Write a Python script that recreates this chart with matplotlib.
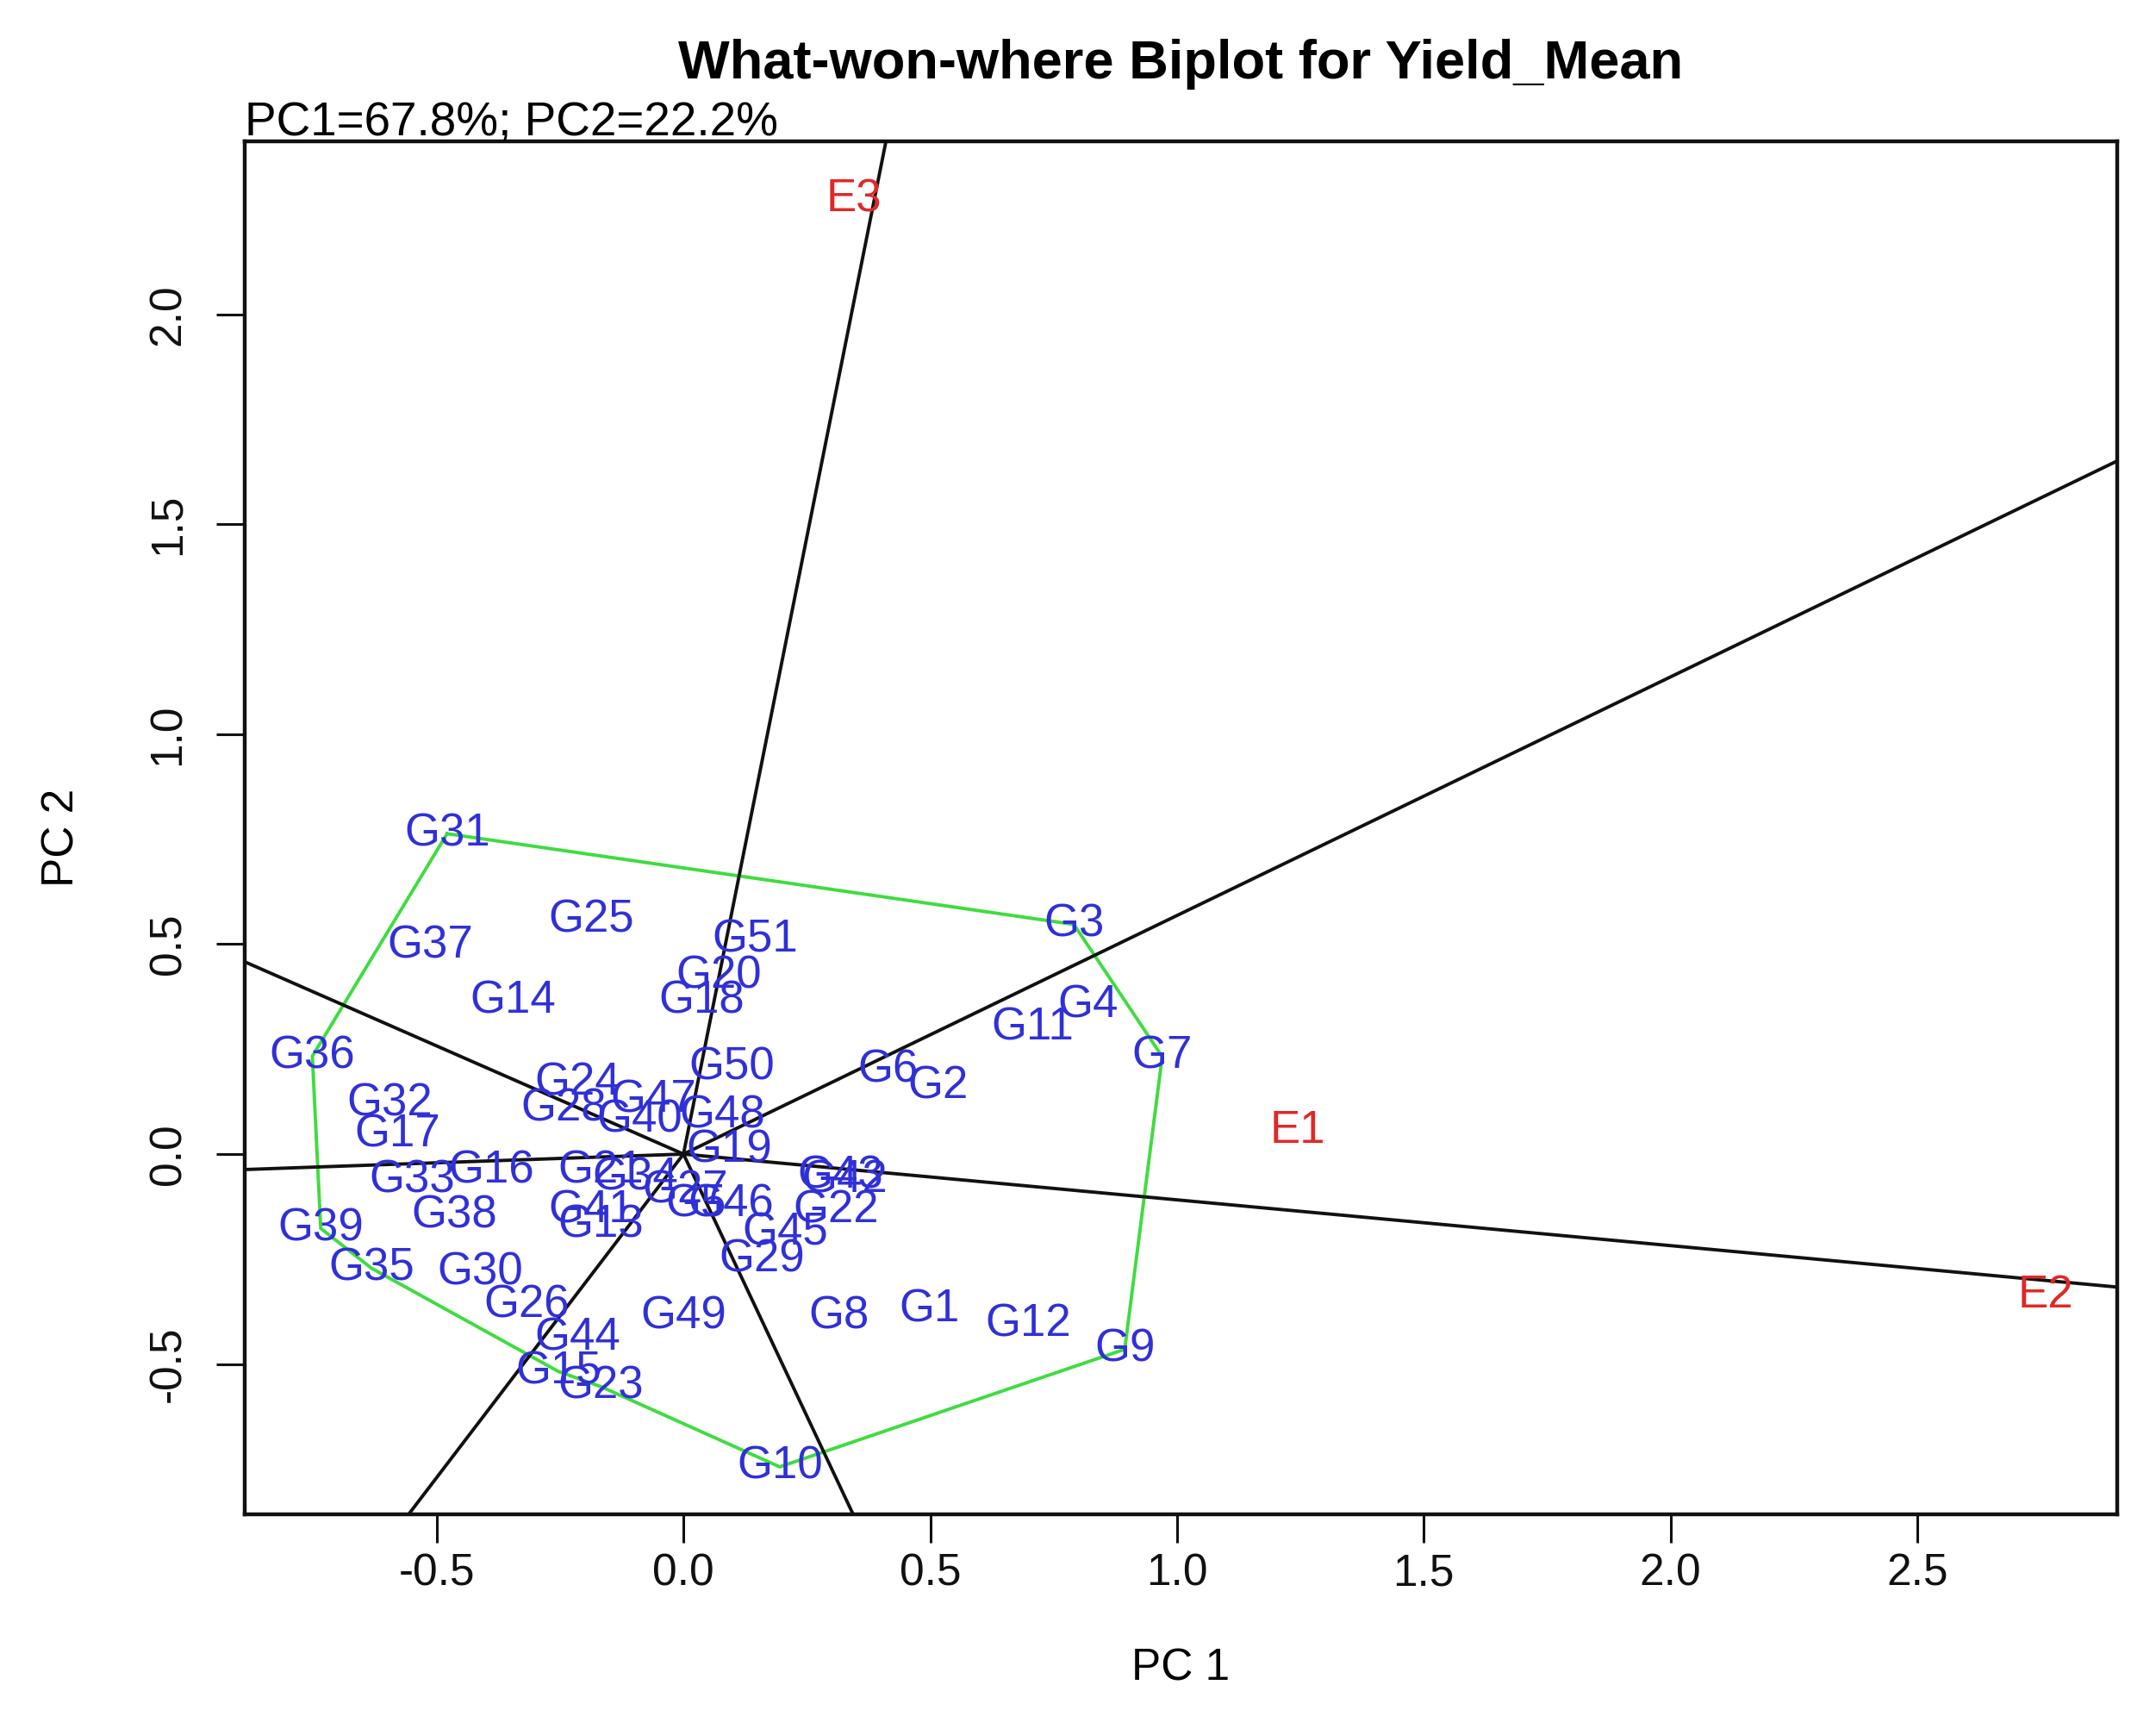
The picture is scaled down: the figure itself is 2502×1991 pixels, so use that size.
import numpy as np
import matplotlib
matplotlib.use("Agg")
import matplotlib.pyplot as plt

plt.rcParams['font.family'] = ['Liberation Sans', 'DejaVu Sans']

# ---- data ----
genotypes = ["G1", "G2", "G3", "G4", "G5", "G6", "G7", "G8", "G9", "G10",
             "G11", "G12", "G13", "G14", "G15", "G16", "G17", "G18", "G19", "G20",
             "G21", "G22", "G23", "G24", "G25", "G26", "G27", "G28", "G29", "G30",
             "G31", "G32", "G33", "G34", "G35", "G36", "G37", "G38", "G39", "G40",
             "G41", "G42", "G43", "G44", "G45", "G46", "G47", "G48", "G49", "G50",
             "G51"]
g_pc1 = [0.499, 0.515, 0.791, 0.819, 0.025, 0.415, 0.970, 0.315, 0.894, 0.195,
         0.708, 0.699, -0.167, -0.345, -0.253, -0.390, -0.579, 0.036, 0.092, 0.072,
         -0.167, 0.309, -0.167, -0.214, -0.187, -0.318, 0.003, -0.242, 0.159, -0.412,
         -0.479, -0.596, -0.549, -0.097, -0.632, -0.752, -0.513, -0.465, -0.735, -0.089,
         -0.187, 0.326, 0.318, -0.214, 0.206, 0.097, -0.061, 0.078, 0.000, 0.097,
         0.145]
g_pc2 = [-0.370, 0.161, 0.547, 0.354, -0.121, 0.200, 0.232, -0.387, -0.465, -0.745,
         0.301, -0.406, -0.170, 0.364, -0.518, -0.039, 0.046, 0.364, 0.010, 0.423,
         -0.039, -0.134, -0.554, 0.170, 0.557, -0.360, -0.088, 0.108, -0.252, -0.282,
         0.763, 0.121, -0.062, -0.056, -0.272, 0.233, 0.495, -0.147, -0.177, 0.082,
         -0.134, -0.062, -0.052, -0.439, -0.187, -0.121, 0.128, 0.092, -0.387, 0.206,
         0.511]

environments = ["E1", "E2", "E3"]
e_pc1 = [1.245, 2.760, 0.345]
e_pc2 = [0.056, -0.337, 2.274]

# polygon (convex hull) vertices, in drawing order
hull = ["G31", "G3", "G7", "G9", "G10", "G23", "G15", "G35", "G39", "G36"]
# polygon sides whose perpendicular from the origin is drawn
ray_sides = [("G31", "G3"), ("G3", "G7"), ("G7", "G9"), ("G9", "G10"),
             ("G15", "G35"), ("G39", "G36"), ("G36", "G31")]

x_ticks = [-0.5, 0.0, 0.5, 1.0, 1.5, 2.0, 2.5]
y_ticks = [-0.5, 0.0, 0.5, 1.0, 1.5, 2.0]

title = "What-won-where Biplot for Yield_Mean"
subtitle = "PC1=67.8%; PC2=22.2%"

# ---- figure ----
W, H = 2502, 1991
fig = plt.figure(figsize=(W / 100, H / 100), dpi=100)
L, R, T, B = 284, 2457, 164, 1757
ax = fig.add_axes([L / W, 1 - B / H, (R - L) / W, (B - T) / H])
ax.set_xlim(-0.889, 2.905)
ax.set_ylim(-0.858, 2.412)

pos = {g: (x, y) for g, x, y in zip(genotypes, g_pc1, g_pc2)}

# rays perpendicular to polygon sides
for a, b in ray_sides:
    A = np.array(pos[a]); Bv = np.array(pos[b])
    d = Bv - A
    foot = A - (A @ d) / (d @ d) * d
    u = foot / np.linalg.norm(foot)
    ax.plot([0, 10 * u[0]], [0, 10 * u[1]], color='#111111', lw=2.8,
            solid_capstyle='butt', zorder=2)

# polygon
hx = [pos[g][0] for g in hull] + [pos[hull[0]][0]]
hy = [pos[g][1] for g in hull] + [pos[hull[0]][1]]
ax.plot(hx, hy, color='#3fdc3f', lw=2.8, zorder=1)

# labels
for g, x, y in zip(genotypes, g_pc1, g_pc2):
    ax.text(x, y, g, color='#3030d8', fontsize=38, ha='center', va='center',
            zorder=3)
for e, x, y in zip(environments, e_pc1, e_pc2):
    ax.text(x, y, e, color='#e02828', fontsize=38, ha='center', va='center',
            zorder=3)

ax.set_xticks(x_ticks)
ax.set_xticklabels([f"{v:.1f}" for v in x_ticks])
ax.set_yticks(y_ticks)
ax.set_yticklabels([f"{v:.1f}" for v in y_ticks], rotation=90, va='center')
ax.tick_params(axis='both', direction='out', length=24, width=2.2,
               labelsize=37, colors='#111111')
ax.tick_params(axis='x', pad=8)
ax.tick_params(axis='y', pad=22)
for s in ax.spines.values():
    s.set_linewidth(3.2)
    s.set_color('#111111')

fig.text((L + R) / 2 / W, 1 - 74 / H, title, fontsize=45.5, fontweight='bold',
         ha='center', va='center')
fig.text(L / W, 1 - 143 / H, subtitle, fontsize=39.5, ha='left', va='center')
fig.text((L + R) / 2 / W, 1 - 1936 / H, "PC 1", fontsize=37, ha='center',
         va='center')
fig.text(72 / W, 1 - 972 / H, "PC 2", fontsize=37, ha='center', va='center',
         rotation=90)

fig.savefig("out.png", dpi=100)
